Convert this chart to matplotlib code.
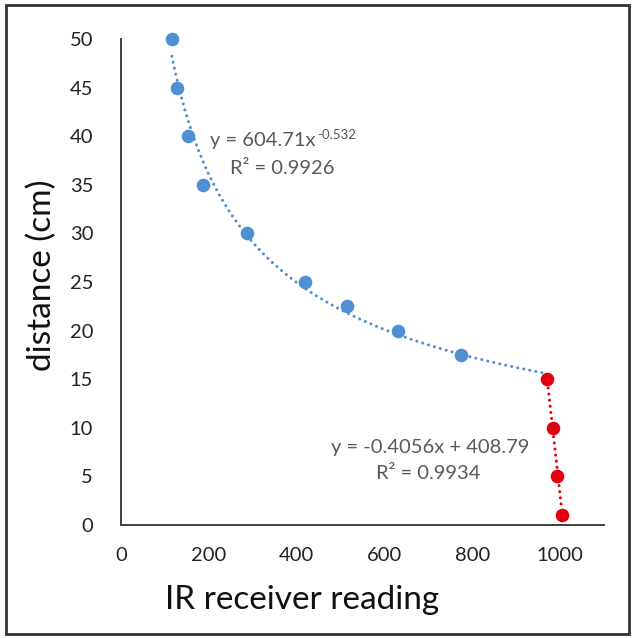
import numpy as np
import matplotlib
matplotlib.use("Agg")
import matplotlib.pyplot as plt
from matplotlib.patches import Rectangle

plt.rcParams['font.family'] = ['Lato', 'DejaVu Sans']
plt.rcParams['axes.unicode_minus'] = False

# Far-range readings (power-law region)
far_reading = [116, 128, 153, 187, 287, 419, 515, 631, 774]
far_distance = [50, 45, 40, 35, 30, 25, 22.5, 20, 17.5]

# Near-range readings (linear region)
near_reading = [970, 984, 993, 1004]
near_distance = [15, 10, 5, 1]

# Fitted trendline coefficients
pow_a, pow_b, pow_r2 = 604.71, -0.532, 0.9926
lin_m, lin_c, lin_r2 = -0.4056, 408.79, 0.9934

x_ticks = [0, 200, 400, 600, 800, 1000]
y_ticks = [0, 5, 10, 15, 20, 25, 30, 35, 40, 45, 50]

blue = '#4f8fd2'
red = '#e3000f'
grey_text = '#595959'
axis_col = '#404040'
dots = (0, (0.01, 2.0))

fig = plt.figure(figsize=(6.33, 6.38), dpi=100)
ax = fig.add_axes([0.191, 0.177, 0.763, 0.762])

# Power trendline across the far range up to the junction point
xp = np.linspace(far_reading[0], near_reading[0], 400)
ax.plot(xp, pow_a * xp ** pow_b, linestyle=dots, color=blue, lw=2.2,
        dash_capstyle='round', zorder=2)

# Linear trendline across the near range
xl = np.linspace(near_reading[0], near_reading[-1], 50)
ax.plot(xl, lin_m * xl + lin_c, linestyle=dots, color=red, lw=2.2,
        dash_capstyle='round', zorder=2)

ax.plot(far_reading, far_distance, 'o', color=blue, ms=9.8, mec='none',
        zorder=3, clip_on=False)
ax.plot(near_reading, near_distance, 'o', color=red, ms=9.8, mec='none',
        zorder=3, clip_on=False)

ax.set_xlim(0, 1100)
ax.set_ylim(0, 50)
ax.set_xticks(x_ticks)
ax.set_yticks(y_ticks)
ax.tick_params(axis='both', length=0, labelsize=14.5, colors='#222222')
ax.tick_params(axis='y', pad=20)
ax.tick_params(axis='x', pad=16)

for side in ('top', 'right'):
    ax.spines[side].set_visible(False)
for side in ('left', 'bottom'):
    ax.spines[side].set_color(axis_col)
    ax.spines[side].set_linewidth(1.4)

ax.set_xlabel('IR receiver reading', fontsize=24, color='#111111')
ax.set_ylabel('distance (cm)', fontsize=24, color='#111111')
ax.xaxis.set_label_coords(0.375, -0.155)
ax.yaxis.set_label_coords(-0.164, 0.514)
ax.xaxis.label.set_va('center')
ax.yaxis.label.set_va('center')

# Trendline equations
eq1 = ax.text(203, 39.6, f'y = {pow_a:.2f}x', fontsize=14.5,
              color=grey_text, ha='left', va='center')
ax.annotate(f'{pow_b:.3f}', xy=(1.0, 0.78), xycoords=eq1, xytext=(1, 0),
            textcoords='offset points', fontsize=9.5, color=grey_text,
            ha='left', va='center')
ax.text(367, 36.7, f'R² = {pow_r2:.4f}', fontsize=14.5, color=grey_text,
        ha='center', va='center')
ax.text(704, 8.0, f'y = {lin_m:.4f}x + {lin_c:.2f}', fontsize=14.5,
        color=grey_text, ha='center', va='center')
ax.text(699, 5.35, f'R² = {lin_r2:.4f}', fontsize=14.5, color=grey_text,
        ha='center', va='center')

# Outer frame around the figure
fig.patches.append(Rectangle((0.010, 0.006), 0.984, 0.986, transform=fig.transFigure,
                             fill=False, edgecolor='#333333', lw=2.0))

fig.savefig('out.png', dpi=100)
